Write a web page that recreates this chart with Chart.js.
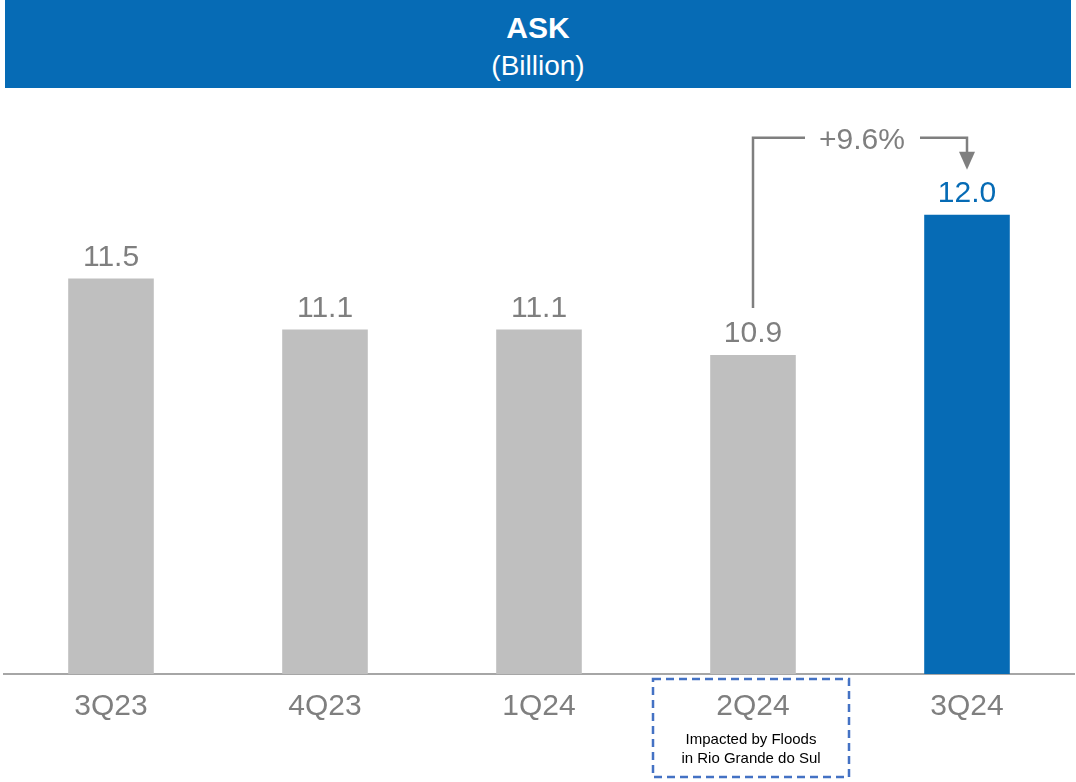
<!DOCTYPE html>
<html>
<head>
<meta charset="utf-8">
<script src="https://cdn.jsdelivr.net/npm/chart.js@4/dist/chart.umd.min.js"></script>
<style>
  html, body { margin: 0; padding: 0; background: #fff; }
  #wrap { position: relative; width: 1076px; height: 782px; }
  #banner {
    position: absolute; left: 5px; top: 0; width: 1066px; height: 88px;
    background: #066BB5; color: #fff; text-align: center;
    font-family: "Liberation Sans", Arial, sans-serif;
  }
  #banner .t { position: absolute; left: 0; right: 0; top: 10px; font-size: 30px; font-weight: bold; line-height: 36px; }
  #banner .s { position: absolute; left: 0; right: 0; top: 49px; font-size: 28px; line-height: 34px; }
  canvas { position: absolute; left: 0; top: 0; }
</style>
</head>
<body>
<div id="wrap">
  <canvas id="askChart" width="1076" height="782"></canvas>
  <div id="banner"><div class="t">ASK</div><div class="s">(Billion)</div></div>
</div>
<script>
// Quarterly ASK, in billions
const quarters = ['3Q23', '4Q23', '1Q24', '2Q24', '3Q24'];
const askValues = [11.5, 11.1, 11.1, 10.9, 12.0];
const barColors = ['#BFBFBF', '#BFBFBF', '#BFBFBF', '#BFBFBF', '#066BB5'];
const labelColors = ['#7F7F7F', '#7F7F7F', '#7F7F7F', '#7F7F7F', '#066BB5'];
const growthText = '+9.6%';
const noteQuarter = '2Q24';
const noteLines = ['Impacted by Floods', 'in Rio Grande do Sul'];

const FONT = '"Liberation Sans", Arial, sans-serif';
const GREY = '#7F7F7F';

// value labels above each bar
const valueLabels = {
  id: 'valueLabels',
  afterDatasetsDraw(chart) {
    const ctx = chart.ctx;
    const bars = chart.getDatasetMeta(0).data;
    ctx.save();
    ctx.font = '30px ' + FONT;
    ctx.textAlign = 'center';
    ctx.textBaseline = 'alphabetic';
    bars.forEach((bar, i) => {
      ctx.fillStyle = labelColors[i];
      ctx.fillText(askValues[i].toFixed(1), bar.x, bar.y - 13);
    });
    ctx.restore();
  }
};

// growth bracket from 2Q24 to 3Q24 plus the dashed note box
const annotations = {
  id: 'annotations',
  afterDraw(chart) {
    const ctx = chart.ctx;
    const bars = chart.getDatasetMeta(0).data;
    const from = bars[3], to = bars[4];
    const lineY = to.y - 77;
    const midX = (from.x + to.x) / 2;
    ctx.save();
    ctx.strokeStyle = GREY;
    ctx.fillStyle = GREY;
    ctx.lineWidth = 2.5;
    ctx.beginPath();
    ctx.moveTo(from.x, from.y - 47);
    ctx.lineTo(from.x, lineY);
    ctx.lineTo(midX - 55, lineY);
    ctx.moveTo(midX + 60, lineY);
    ctx.lineTo(to.x, lineY);
    ctx.lineTo(to.x, lineY + 15);
    ctx.stroke();
    ctx.beginPath();
    ctx.moveTo(to.x - 8, lineY + 14);
    ctx.lineTo(to.x + 8, lineY + 14);
    ctx.lineTo(to.x, lineY + 32);
    ctx.closePath();
    ctx.fill();
    ctx.font = '30px ' + FONT;
    ctx.textAlign = 'center';
    ctx.textBaseline = 'middle';
    ctx.fillText(growthText, midX + 2, lineY + 3);

    // note box under the flood-affected quarter
    const x = chart.scales.x.getPixelForValue(quarters.indexOf(noteQuarter));
    const top = chart.chartArea.bottom + 5;
    ctx.strokeStyle = '#4472C4';
    ctx.lineWidth = 2.5;
    ctx.setLineDash([8, 5]);
    ctx.strokeRect(x - 100, top, 196, 98);
    ctx.setLineDash([]);
    ctx.fillStyle = '#000';
    ctx.font = '15px ' + FONT;
    ctx.fillText(noteLines[0], x - 2, top + 61);
    ctx.fillText(noteLines[1], x - 2, top + 80);
    ctx.restore();
  }
};

new Chart(document.getElementById('askChart'), {
  type: 'bar',
  data: {
    labels: quarters,
    datasets: [{
      data: askValues,
      backgroundColor: barColors,
      barPercentage: 0.4,
      categoryPercentage: 1.0
    }]
  },
  options: {
    responsive: false,
    animation: false,
    layout: { padding: { top: 100, left: 4, right: 2, bottom: 0 } },
    plugins: { legend: { display: false }, tooltip: { enabled: false } },
    scales: {
      x: {
        grid: { display: false },
        border: { display: true, color: '#A6A6A6', width: 2 },
        ticks: { color: GREY, font: { family: FONT, size: 30 }, padding: 7 },
        afterFit(scale) { scale.height = 108; }
      },
      y: {
        display: false,
        min: 8.4,
        max: 12.9
      }
    }
  },
  plugins: [valueLabels, annotations]
});
</script>
</body>
</html>
